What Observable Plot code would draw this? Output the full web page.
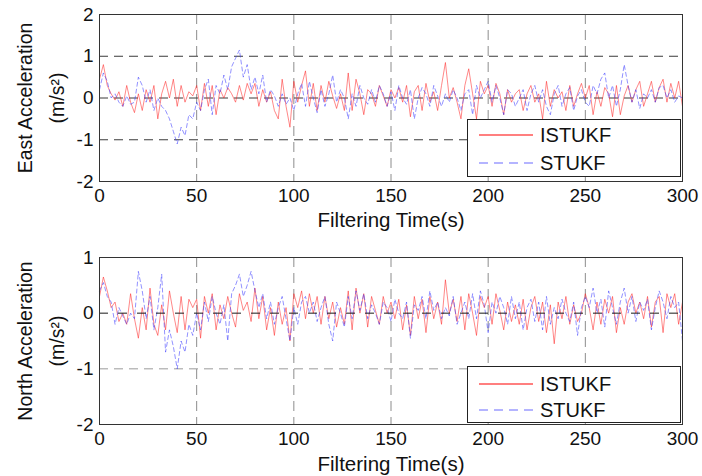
<!DOCTYPE html>
<html>
<head>
<meta charset="utf-8">
<script src="https://cdn.jsdelivr.net/npm/d3@7"></script>
<script src="https://cdn.jsdelivr.net/npm/@observablehq/plot@0.6"></script>
<style>
  body { margin: 0; background: #fff; font-family: "Liberation Sans", Arial, sans-serif; }
  #wrap { position: relative; width: 702px; height: 476px; overflow: hidden; }
  .panel { position: absolute; left: 0; width: 702px; height: 238px; }
  .legend { position: absolute; background: #fff; border: 1px solid #222; box-sizing: border-box; }
  .legend .item { position: absolute; left: 0; right: 0; height: 24px; }
  .legend .item svg { position: absolute; left: 10px; top: 0; }
  .legend .item span { position: absolute; left: 72px; top: 1px; font-size: 20px; line-height: 22px; color: #111; }
</style>
</head>
<body>
<div id="wrap">
  <div class="panel" id="p1" style="top:0"></div>
  <div class="panel" id="p2" style="top:238px"></div>
</div>
<script>
// ---- data (sampled every 2 s, 0..300 s) ----
const xTicks = [0, 50, 100, 150, 200, 250, 300];
const xGrid = [50, 100, 150, 200, 250];
const seriesNames = ["ISTUKF", "STUKF"];
const xLabel = "Filtering Time(s)";
const eastLabel = "East Acceleration";
const northLabel = "North Acceleration";
const unitLabel = "(m/s\u00B2)";
const eastTicks = [-2, -1, 0, 1, 2];
const northTicks = [-2, -1, 0, 1];

const eastIST = [
  0.45, 0.8, 0.3, 0.1, -0.05, 0.15, -0.2, 0.3, -0.1, -0.35,
  0.1, -0.3, 0.2, -0.1, 0.3, -0.5, 0.1, 0.4, 0.0, 0.45,
  -0.2, 0.3, -0.1, 0.15, 0.05, 0.3, -0.3, 0.35, -0.2, 0.3,
  -0.4, 0.2, 0.0, 0.25, 0.1, -0.1, 0.3, -0.05, 0.35, 0.1,
  0.35, -0.2, 0.2, -0.1, 0.15, -0.3, -0.5, 0.45, -0.2, -0.7,
  0.4, -0.1, 0.3, 0.65, -0.2, 0.35, -0.3, 0.3, -0.1, 0.4,
  0.05, -0.25, 0.1, -0.3, 0.6, -0.3, 0.45, 0.1, -0.4, 0.2,
  0.1, -0.2, 0.3, 0.05, -0.2, 0.2, 0.0, 0.25, -0.1, 0.3,
  -0.45, 0.15, 0.3, -0.3, 0.35, -0.1, 0.15, -0.3, 0.3, 0.85,
  0.0, 0.25, -0.1, -0.5, 0.3, 0.7, 0.1, -0.5, 0.4, 0.1,
  0.3, -0.2, 0.35, 0.1, -0.4, 0.2, -0.1, 0.1, 0.2, -0.3,
  0.1, 0.3, -0.1, 0.1, -0.5, 0.4, -0.2, 0.2, 0.0, 0.15,
  -0.3, 0.3, -0.2, 0.1, 0.35, 0.0, 0.3, -0.4, 0.15, -0.2,
  0.25, 0.1, -0.45, 0.3, -0.4, 0.05, 0.3, -0.1, 0.2, 0.4,
  -0.2, 0.1, 0.4, -0.1, 0.25, 0.45, -0.1, 0.35, 0.0, 0.4,
  -0.2
];
const eastST = [
  0.2, 0.6, 0.4, 0.0, 0.1, -0.1, -0.2, 0.05, -0.15, -0.1,
  0.5, 0.3, -0.1, 0.2, -0.3, 0.0, -0.2, -0.3, -0.5, -0.8,
  -1.1, -0.7, -0.9, -0.4, -0.5, -0.1, -0.3, 0.2, 0.45, -0.4,
  0.3, 0.1, 0.55, 0.2, 0.75, 0.95, 1.15, 0.5, 0.8, 0.2,
  0.5, 0.1, 0.55, -0.1, 0.2, 0.05, -0.2, 0.1, -0.15, 0.0,
  -0.3, 0.1, 0.35, -0.2, 0.4, 0.0, -0.35, 0.2, -0.2, 0.1,
  0.55, -0.1, 0.2, 0.0, -0.5, 0.1, -0.2, 0.3, 0.0, -0.15,
  0.2, -0.1, 0.3, 0.1, -0.2, 0.15, -0.3, 0.3, 0.0, -0.15,
  0.2, -0.5, 0.0, 0.25, 0.1, -0.2, 0.3, 0.05, -0.2, 0.1,
  -0.1, 0.2, 0.0, -0.3, 0.1, 0.2, -0.4, 0.3, 0.0, 0.2,
  0.4, -0.1, 0.3, 0.0, -0.4, 0.2, 0.1, -0.2, 0.0, 0.2,
  -0.3, 0.1, 0.3, -0.1, 0.2, -0.2, -0.4, 0.1, 0.3, -0.2,
  0.1, 0.25, -0.3, 0.05, 0.2, -0.1, -0.2, 0.3, 0.1, 0.45,
  0.6, 0.0, 0.3, -0.2, 0.2, 0.8, 0.3, -0.1, 0.2, -0.25,
  0.1, 0.0, 0.2, -0.1, 0.25, 0.3, 0.0, 0.2, -0.1, 0.05,
  0.0
];
const northIST = [
  0.3, 0.65, 0.4, 0.1, 0.2, -0.15, 0.0, -0.2, 0.35, -0.1,
  -0.45, 0.1, -0.3, 0.45, -0.2, -0.4, 0.15, -0.3, 0.4, 0.0,
  -0.35, 0.3, -0.3, 0.25, 0.1, 0.25, -0.45, 0.3, 0.0, 0.35,
  -0.3, 0.15, -0.1, 0.3, 0.0, -0.25, 0.35, 0.05, 0.2, -0.15,
  0.45, -0.1, 0.3, -0.3, 0.1, -0.4, 0.2, -0.2, 0.1, -0.5,
  0.35, 0.1, 0.4, -0.1, 0.35, 0.0, 0.3, -0.2, 0.3, -0.1,
  0.2, -0.25, 0.1, -0.2, 0.4, -0.3, 0.45, 0.0, 0.35, -0.25,
  0.3, 0.05, -0.2, 0.3, 0.0, 0.2, -0.1, 0.25, -0.3, 0.15,
  -0.4, 0.3, -0.1, 0.25, -0.35, 0.3, -0.1, 0.2, -0.2, 0.6,
  0.0, 0.25, -0.15, 0.3, -0.3, 0.35, 0.0, -0.4, 0.3, 0.1,
  0.3, -0.2, 0.35, 0.05, -0.3, 0.2, -0.15, 0.15, -0.2, 0.25,
  -0.3, 0.1, 0.3, -0.15, 0.2, -0.35, 0.15, -0.55, 0.2, -0.1,
  0.3, -0.2, 0.15, -0.15, 0.0, 0.35, 0.1, -0.3, 0.2, -0.2,
  0.25, 0.0, 0.3, -0.35, 0.1, -0.2, 0.2, 0.35, 0.0, 0.2,
  -0.1, 0.3, -0.25, 0.2, 0.3, -0.35, 0.35, 0.1, 0.35, -0.2,
  0.2
];
const northST = [
  0.4, 0.55, 0.3, 0.2, -0.2, 0.1, -0.05, -0.2, 0.0, -0.1,
  0.75, 0.4, -0.1, 0.3, -0.3, 0.1, 0.7, -0.7, -0.3, -0.6,
  -1.0, -0.5, -0.7, -0.2, -0.4, 0.0, -0.3, 0.2, -0.15, 0.3,
  0.0, -0.2, 0.15, -0.5, 0.35, 0.5, 0.7, 0.3, 0.5, 0.75,
  0.4, 0.1, 0.35, -0.1, 0.2, -0.2, 0.1, 0.3, -0.1, -0.5,
  0.1, -0.2, 0.2, 0.3, 0.0, 0.2, -0.15, 0.1, 0.3, -0.2,
  -0.5, 0.2, 0.0, -0.25, 0.3, -0.1, 0.4, 0.05, 0.35, -0.1,
  0.15, 0.0, -0.2, 0.2, 0.1, -0.15, 0.25, 0.0, -0.1, 0.2,
  -0.45, 0.15, 0.05, 0.3, -0.1, 0.4, 0.05, 0.2, -0.1, 0.1,
  -0.05, 0.3, -0.2, 0.0, 0.2, -0.1, 0.35, -0.1, 0.4, 0.15,
  -0.35, 0.2, 0.0, 0.3, 0.1, -0.2, 0.3, -0.1, 0.2, -0.3,
  0.1, 0.25, -0.15, 0.2, -0.3, 0.3, -0.2, 0.1, -0.1, 0.25,
  0.0, -0.15, 0.2, -0.4, 0.1, 0.3, 0.1, 0.45, 0.0, 0.25,
  -0.25, 0.4, 0.1, -0.2, 0.2, 0.45, 0.0, 0.3, -0.15, 0.2,
  0.05, 0.25, -0.3, 0.1, 0.4, 0.2, -0.1, 0.3, 0.1, 0.2,
  -0.5
];

const redColor = "#ff2a2a";
const blueColor = "#3c3cff";

function rows(arr) {
  return arr.map((v, i) => ({ t: i * 300 / (arr.length - 1), v }));
}

function panel(o) {
  return Plot.plot({
    width: 702,
    height: 238,
    marginLeft: 99,
    marginRight: 20,
    marginTop: o.marginTop,
    marginBottom: o.marginBottom,
    style: { fontFamily: "'Liberation Sans', Arial, sans-serif", fontSize: "19px", color: "#111", background: "transparent", overflow: "visible" },
    x: { domain: [0, 300], label: null },
    y: { domain: o.yDomain, label: null },
    marks: [
      Plot.ruleX(xGrid, { stroke: "#8c8c8c", strokeWidth: 1, strokeDasharray: "10,6" }),
      Plot.ruleY(o.gridDark, { stroke: "#3a3a3a", strokeWidth: 1, strokeDasharray: "9,6" }),
      Plot.ruleY(o.gridLight, { stroke: "#9a9a9a", strokeWidth: 1, strokeDasharray: "9,6" }),
      Plot.line(rows(o.ist), { x: "t", y: "v", stroke: redColor, strokeWidth: 0.8, strokeOpacity: 0.7 }),
      Plot.line(rows(o.st), { x: "t", y: "v", stroke: blueColor, strokeWidth: 0.8, strokeOpacity: 0.7, strokeDasharray: "4,3" }),
      Plot.ruleY(o.zeroTop, { stroke: "#1a1a1a", strokeWidth: 1, strokeDasharray: "9,10" }),
      Plot.frame({ stroke: "#333", strokeWidth: 1 }),
      Plot.axisX({ ticks: xTicks, tickSize: 0, tickPadding: 7, tickFormat: d => String(d), fontSize: 19 }),
      Plot.axisY({ ticks: o.yTicks, tickSize: 0, tickPadding: 6, tickFormat: d => String(d), fontSize: 19 }),
      Plot.text([o.ylabel], { frameAnchor: "left", textAnchor: "middle", lineAnchor: "middle", rotate: -90, dx: -74, text: d => d, fontSize: 19.5, fill: "#111" }),
      Plot.text([unitLabel], { frameAnchor: "left", textAnchor: "middle", lineAnchor: "middle", rotate: -90, dx: -42, text: d => d, fontSize: 19.5, fill: "#111" }),
      Plot.text([xLabel], { frameAnchor: "bottom", textAnchor: "middle", lineAnchor: "middle", dy: o.xLabelDy, text: d => d, fontSize: 20.5, fill: "#111" })
    ]
  });
}

document.getElementById("p1").appendChild(panel({
  ist: eastIST, st: eastST, yDomain: [-2, 2], yTicks: eastTicks,
  gridDark: [1, 0, -1], gridLight: [], zeroTop: [],
  ylabel: eastLabel, marginTop: 14, marginBottom: 57, xLabelDy: 39
}));
document.getElementById("p2").appendChild(panel({
  ist: northIST, st: northST, yDomain: [-2, 1], yTicks: northTicks,
  gridDark: [], gridLight: [-1], zeroTop: [0],
  ylabel: northLabel, marginTop: 19, marginBottom: 52, xLabelDy: 40
}));

// ---- legends ----
function addLegend(left, top, width, height, rowCenters) {
  const box = document.createElement("div");
  box.className = "legend";
  Object.assign(box.style, { left: left + "px", top: top + "px", width: width + "px", height: height + "px" });
  const styles = [
    { color: "#ff0000", dash: null },
    { color: "#6a6aff", dash: "9,6" }
  ];
  seriesNames.forEach((name, i) => {
    const item = document.createElement("div");
    item.className = "item";
    item.style.top = (rowCenters[i] - 12) + "px";
    const ns = "http://www.w3.org/2000/svg";
    const svg = document.createElementNS(ns, "svg");
    svg.setAttribute("width", "58");
    svg.setAttribute("height", "24");
    const ln = document.createElementNS(ns, "line");
    ln.setAttribute("x1", "1"); ln.setAttribute("x2", "55");
    ln.setAttribute("y1", "12"); ln.setAttribute("y2", "12");
    ln.setAttribute("stroke", styles[i].color);
    ln.setAttribute("stroke-width", "1.2");
    if (styles[i].dash) ln.setAttribute("stroke-dasharray", styles[i].dash);
    svg.appendChild(ln);
    const sp = document.createElement("span");
    sp.textContent = name;
    item.appendChild(svg);
    item.appendChild(sp);
    box.appendChild(item);
  });
  document.getElementById("wrap").appendChild(box);
}
addLegend(467, 119, 214, 58, [15, 43]);
addLegend(467, 366, 214, 57, [17, 43]);
</script>
</body>
</html>
